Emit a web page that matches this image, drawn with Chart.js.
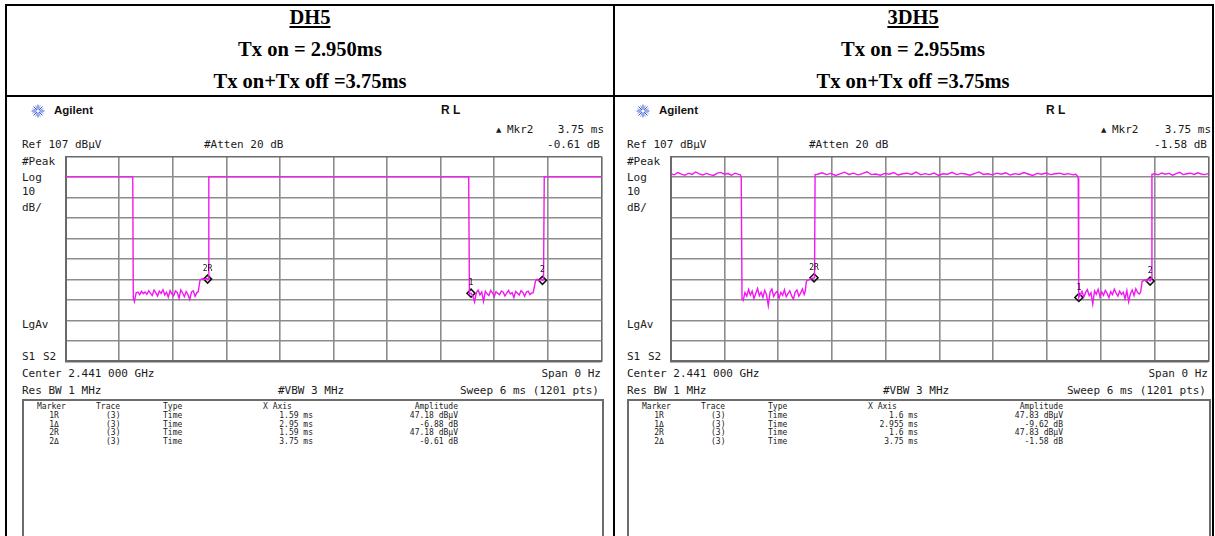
<!DOCTYPE html>
<html>
<head>
<meta charset="utf-8">
<title>DH5 / 3DH5 Tx on time</title>
<script src="https://cdn.jsdelivr.net/npm/chart.js@4.4.1/dist/chart.umd.min.js"></script>
<style>
html, body { margin: 0; background: #fff; }
#page { position: relative; width: 1215px; height: 536px; overflow: hidden; background: #fff; }
#page div, #page canvas { position: absolute; }
#page div { white-space: pre; }
.rule { background: #000; }
.head { font: bold 20.5px "Liberation Serif", "Times New Roman", serif; line-height: 24px; color: #000; }
.uline { text-decoration: underline; text-decoration-thickness: 1.5px; text-underline-offset: 2px; }
.ann { font: 11px "DejaVu Sans Mono", monospace; line-height: 13px; color: #1a1a1a; }
.tiny { font: 7px "DejaVu Sans", sans-serif; line-height: 9px; color: #1a1a1a; }
.tbl { font: 8px "DejaVu Sans Mono", monospace; line-height: 9px; color: #1a1a1a; }
.brand { font: bold 11.5px "Liberation Sans", Arial, sans-serif; line-height: 13px; color: #111; }
.rl { font: bold 12px "Liberation Sans", Arial, sans-serif; line-height: 14px; color: #111; }
.box { border: 2px solid #6c6c6c; background: #fff; }
</style>
</head>
<body>
<div id="page"></div>
<script>
// screen settings shared by both captures
const sweepMs = 6;        // Sweep 6 ms (1201 pts)
const refLevel = 107;     // Ref 107 dBuV
const dbPerDiv = 10;      // Log 10 dB/
const timeDivs = [0, 0.6, 1.2, 1.8, 2.4, 3, 3.6, 4.2, 4.8, 5.4, 6];
const levelDivs = [7, 17, 27, 37, 47, 57, 67, 77, 87, 97, 107];

// table header row
const modes = ['DH5', '3DH5'];
const txOn = ['2.950', '2.955'];
const txPeriod = ['3.75', '3.75'];

// marker table rows: 1R, 1Δ, 2R, 2Δ
const markerNames = ['1R', '1Δ', '2R', '2Δ'];
const dh5MarkerMs = [1.59, 2.95, 1.59, 3.75];
const dh5MarkerAmp = [47.18, -6.88, 47.18, -0.61];
const dh3MarkerMs = [1.6, 2.955, 1.6, 3.75];
const dh3MarkerAmp = [47.83, -9.62, 47.83, -1.58];

// noisy stretches of the traces, dBuV
const dh5FloorA = [36.2, 40.5, 40.8, 39.6, 41.2, 40.1, 40.9, 39.8, 41.5, 40.3,
  39.2, 41.8, 40.6, 38.9, 41.3, 40.2, 42.0, 39.5, 40.8, 38.4,
  41.6, 40.0, 39.1, 41.4, 40.7, 37.8, 41.9, 40.4, 38.6, 41.1,
  39.7, 37.2, 40.9, 41.5, 38.8, 40.6];                       // 0.77 ms on, every 0.02 ms
const dh5FloorB = [40.3, 39.0, 36.0, 40.6, 41.8, 39.5, 40.9, 36.3, 41.2, 40.0,
  39.2, 41.6, 40.5, 38.7, 41.0, 40.2, 39.6, 41.4, 40.8, 38.9,
  40.4, 41.7, 39.9, 40.6, 38.2, 41.1, 40.3, 39.4, 41.5, 40.7,
  38.8, 40.9, 41.3, 39.6, 40.4];                             // 4.54 ms on, every 0.02 ms

const dh3TopA = [98.7, 98.1, 99.2, 98.4, 97.9, 98.9, 98.3, 99.5, 98.6, 98.0,
  98.8, 98.2, 97.8, 98.9, 99.3, 98.4, 98.7, 97.9, 98.9, 98.3]; // 0 ms on, every 0.04 ms
const dh3FloorA = [36.8, 40.6, 38.9, 42.1, 39.4, 41.3, 37.7, 40.2, 42.6, 39.1,
  40.8, 38.3, 41.7, 39.6, 34.2, 40.9, 42.3, 38.7, 40.4, 41.2,
  37.9, 40.7, 39.3, 42.0, 38.6, 40.1, 41.5, 39.0, 37.4, 40.8,
  41.9, 38.8, 40.3, 42.4, 39.7];                             // 0.81 ms on, every 0.02 ms
const dh3TopB = [98.4, 99.1, 98.2, 98.8, 97.8, 98.6, 99.4, 98.3, 98.9, 98.1,
  98.7, 99.6, 98.2, 98.5, 97.9, 98.8, 98.4, 99.2, 98.0, 98.6,
  98.9, 98.3, 99.4, 98.1, 98.7, 98.2, 99.0, 97.8, 98.6, 98.4,
  99.3, 98.2, 98.8, 98.5, 97.9, 98.7, 99.5, 98.3, 98.6, 98.1,
  98.9, 98.4, 99.1, 98.0, 98.7, 98.3, 99.2, 98.5, 97.8, 98.8,
  98.4, 99.0, 98.2, 98.6, 98.9, 98.3, 98.7, 98.1];           // 1.64 ms on, every 0.05 ms
const dh3FloorB = [39.5, 41.2, 38.4, 40.7, 42.0, 39.1, 40.5, 35.0, 41.4, 39.8,
  42.2, 38.6, 40.9, 39.3, 41.7, 40.2, 38.1, 41.0, 39.6, 42.3,
  40.4, 38.9, 41.3, 39.7, 40.8, 37.6, 41.6, 36.1, 40.0, 41.8,
  39.2, 42.5, 40.6, 39.9];                                   // 4.57 ms on, every 0.02 ms
const dh3TopC = [98.6, 98.1, 99.0, 98.4, 98.8, 97.9, 98.7, 99.3, 98.2, 98.6,
  98.9, 98.3, 99.1, 98.5, 98.2, 98.7];                       // 5.40 ms on, every 0.04 ms

function run(startMs, stepMs, levels) {
  return levels.map((v, i) => [startMs + i * stepMs, v]);
}

// full traces as [ms, dBuV]; edges and the short plateaus read by eye
const dh5Trace = [
  [0, 97.1], [0.752, 97.1], [0.758, 38.0],
  ...run(0.77, 0.02, dh5FloorA),
  [1.485, 41.0], [1.505, 46.6], [1.53, 47.4], [1.555, 47.0], [1.575, 47.5], [1.59, 47.18], [1.598, 47.4], [1.604, 97.1],
  [4.514, 97.1], [4.522, 39.8],
  ...run(4.54, 0.02, dh5FloorB),
  [5.236, 40.6], [5.262, 46.2], [5.28, 47.1], [5.30, 46.4], [5.32, 47.0], [5.34, 46.57], [5.352, 46.9], [5.36, 97.1],
  [6, 97.1]
];
const dh3Trace = [
  ...run(0, 0.04, dh3TopA),
  [0.778, 98.1], [0.788, 97.0], [0.797, 37.5],
  ...run(0.81, 0.02, dh3FloorA),
  [1.503, 41.5], [1.515, 46.2], [1.54, 46.8], [1.565, 47.3], [1.585, 47.6], [1.6, 47.83], [1.606, 48.4], [1.612, 98.2],
  ...run(1.64, 0.05, dh3TopB),
  [4.52, 98.4], [4.538, 97.6], [4.548, 96.5], [4.553, 38.2],
  ...run(4.57, 0.02, dh3FloorB),
  [5.245, 41.0], [5.26, 46.0], [5.29, 46.8], [5.31, 46.3], [5.33, 47.1], [5.35, 46.25], [5.362, 47.4], [5.37, 98.3],
  ...run(5.40, 0.04, dh3TopC),
  [6, 98.5]
];

const page = document.getElementById('page');

function put(text, x, cy, cls, align) {
  const d = document.createElement('div');
  d.className = cls;
  d.textContent = text;
  d.style.left = x + 'px';
  d.style.top = cy + 'px';
  const tx = align === 'right' ? '-100%' : align === 'center' ? '-50%' : '0';
  d.style.transform = 'translate(' + tx + ', -50%)';
  page.appendChild(d);
  return d;
}

function rect(x, y, w, h, cls) {
  const d = document.createElement('div');
  d.className = cls;
  d.style.left = x + 'px';
  d.style.top = y + 'px';
  d.style.width = w + 'px';
  d.style.height = h + 'px';
  page.appendChild(d);
  return d;
}

// marker numbers above the diamonds
const markerTags = {
  id: 'markerTags',
  afterDatasetsDraw(chart) {
    const ds = chart.data.datasets[1];
    const ctx = chart.ctx;
    ctx.save();
    ctx.font = '8px "DejaVu Sans Mono", monospace';
    ctx.fillStyle = '#111';
    ctx.textAlign = 'center';
    ctx.textBaseline = 'bottom';
    chart.getDatasetMeta(1).data.forEach((pt, i) => {
      ctx.fillText(ds.tags[i], pt.x, pt.y - 6);
    });
    ctx.restore();
  }
};

function drawScreen(x, w, trace, ms, amp) {
  const cv = document.createElement('canvas');
  cv.width = w + 6;
  cv.height = 216;
  cv.style.left = (x - 3) + 'px';
  cv.style.top = '151px';
  page.appendChild(cv);

  const edge = '#6a6a6a', line = '#8c8c8c';
  const gridOf = (n) => ({
    color: c => (c.index === 0 || c.index === n) ? edge : line,
    lineWidth: 1.6,
    drawTicks: false
  });

  // 2R sits on 1R; 1 and 2 are delta markers off the reference
  const mkPts = [
    { x: ms[2], y: amp[2] },
    { x: ms[0] + ms[1], y: amp[0] + amp[1] },
    { x: ms[2] + ms[3], y: amp[2] + amp[3] }
  ];

  new Chart(cv, {
    type: 'scatter',
    data: {
      datasets: [
        {
          data: trace.map(p => ({ x: p[0], y: p[1] })),
          showLine: true,
          borderColor: '#f316f3',
          borderWidth: 1.4,
          pointRadius: 0,
          tension: 0
        },
        {
          data: mkPts,
          tags: ['2R', '1', '2'],
          showLine: false,
          pointStyle: 'rectRot',
          pointRadius: 4,
          pointBorderColor: '#111',
          pointBorderWidth: 1.6,
          pointBackgroundColor: 'rgba(0,0,0,0)'
        }
      ]
    },
    options: {
      responsive: false,
      animation: false,
      devicePixelRatio: 1,
      events: [],
      layout: { padding: 3 },
      plugins: { legend: { display: false }, tooltip: { enabled: false } },
      scales: {
        x: {
          type: 'linear', min: 0, max: sweepMs,
          afterBuildTicks: s => { s.ticks = timeDivs.map(v => ({ value: v })); },
          afterFit: s => { s.height = 0; },
          ticks: { display: false },
          grid: gridOf(timeDivs.length - 1),
          border: { color: edge, width: 2 }
        },
        y: {
          type: 'linear', min: refLevel - dbPerDiv * (levelDivs.length - 1), max: refLevel,
          afterBuildTicks: s => { s.ticks = levelDivs.map(v => ({ value: v })); },
          afterFit: s => { s.width = 0; },
          ticks: { display: false },
          grid: gridOf(levelDivs.length - 1),
          border: { color: edge, width: 2 }
        }
      }
    },
    plugins: [markerTags]
  });
}

function drawPanel(k, ox, w, trace, ms, amp) {
  // header cell
  const cx = k === 0 ? 310 : 913;
  put(modes[k], cx, 17, 'head uline', 'center');
  put('Tx on = ' + txOn[k] + 'ms', cx, 49, 'head', 'center');
  put('Tx on+Tx off =' + txPeriod[k] + 'ms', cx, 81, 'head', 'center');

  // analyzer banner
  const logo = rect(ox + 31, 104, 14, 14, '');
  logo.innerHTML = '<svg width="14" height="14" viewBox="-7 -7 14 14"><g stroke="#3552d6" stroke-width="1" stroke-linecap="round">' +
    '<line x1="0" y1="-6" x2="0" y2="6"/><line x1="-6" y1="0" x2="6" y2="0"/>' +
    '<line x1="-4.2" y1="-4.2" x2="4.2" y2="4.2"/><line x1="-4.2" y1="4.2" x2="4.2" y2="-4.2"/>' +
    '<line x1="-2.2" y1="-5.3" x2="2.2" y2="5.3" stroke="#8fa0ec"/><line x1="-5.3" y1="-2.2" x2="5.3" y2="2.2" stroke="#8fa0ec"/>' +
    '<line x1="-2.2" y1="5.3" x2="2.2" y2="-5.3" stroke="#8fa0ec"/><line x1="-5.3" y1="2.2" x2="5.3" y2="-2.2" stroke="#8fa0ec"/>' +
    '</g><circle r="1.6" fill="#fff"/></svg>';
  put('Agilent', ox + 54, 110, 'brand');
  put('R L', ox + 441, 110, 'rl');

  const right = ox + 63 + w;
  put('▲', ox + 496, 130, 'tiny');
  put('Mkr2', ox + 507, 129, 'ann');
  put(ms[3] + ' ms', right, 129, 'ann', 'right');
  put('Ref ' + refLevel + ' dBµV', ox + 22, 144, 'ann');
  put('#Atten 20 dB', ox + 204, 144, 'ann');
  put(amp[3].toFixed(2) + ' dB', right - 4, 144, 'ann', 'right');
  put('#Peak', ox + 22, 161, 'ann');
  put('Log', ox + 22, 177, 'ann');
  put(String(dbPerDiv), ox + 22, 191, 'ann');
  put('dB/', ox + 22, 207, 'ann');
  put('LgAv', ox + 22, 324, 'ann');
  put('S1', ox + 22, 356, 'ann');
  put('S2', ox + 43, 356, 'ann');
  put('Center 2.441 000 GHz', ox + 22, 373, 'ann');
  put('Span 0 Hz', right - 3, 373, 'ann', 'right');
  put('Res BW 1 MHz', ox + 22, 390, 'ann');
  put('#VBW 3 MHz', ox + 278, 390, 'ann');
  put('Sweep ' + sweepMs + ' ms (1201 pts)', right - 5, 390, 'ann', 'right');

  drawScreen(ox + 63, w, trace, ms, amp);

  // marker table, its box runs from under the labels to the grid's right edge
  rect(ox + 22, 399, w + 37, 150, 'box');
  put('Marker', ox + 37, 406, 'tbl');
  put('Trace', ox + 96, 406, 'tbl');
  put('Type', ox + 163, 406, 'tbl');
  put('X Axis', ox + 263, 406, 'tbl');
  put('Amplitude', ox + 458, 406, 'tbl', 'right');
  markerNames.forEach((name, i) => {
    const cy = 415 + i * 8.7;
    const isRef = name.endsWith('R');
    put(name, ox + 54, cy, 'tbl', 'center');
    put('(3)', ox + 106, cy, 'tbl');
    put('Time', ox + 163, cy, 'tbl');
    put(ms[i] + ' ms', ox + 313, cy, 'tbl', 'right');
    put(isRef ? amp[i] + ' dBµV' : amp[i].toFixed(2) + ' dB', ox + 458, cy, 'tbl', 'right');
  });
}

drawPanel(0, 0, 541, dh5Trace, dh5MarkerMs, dh5MarkerAmp);
drawPanel(1, 605, 543, dh3Trace, dh3MarkerMs, dh3MarkerAmp);

// table rules of the document
rect(5, 4, 1209, 2, 'rule');
rect(5, 95, 1209, 2, 'rule');
rect(5, 4, 2, 540, 'rule');
rect(613, 4, 2, 540, 'rule');
rect(1212, 4, 2, 540, 'rule');
</script>
</body>
</html>
